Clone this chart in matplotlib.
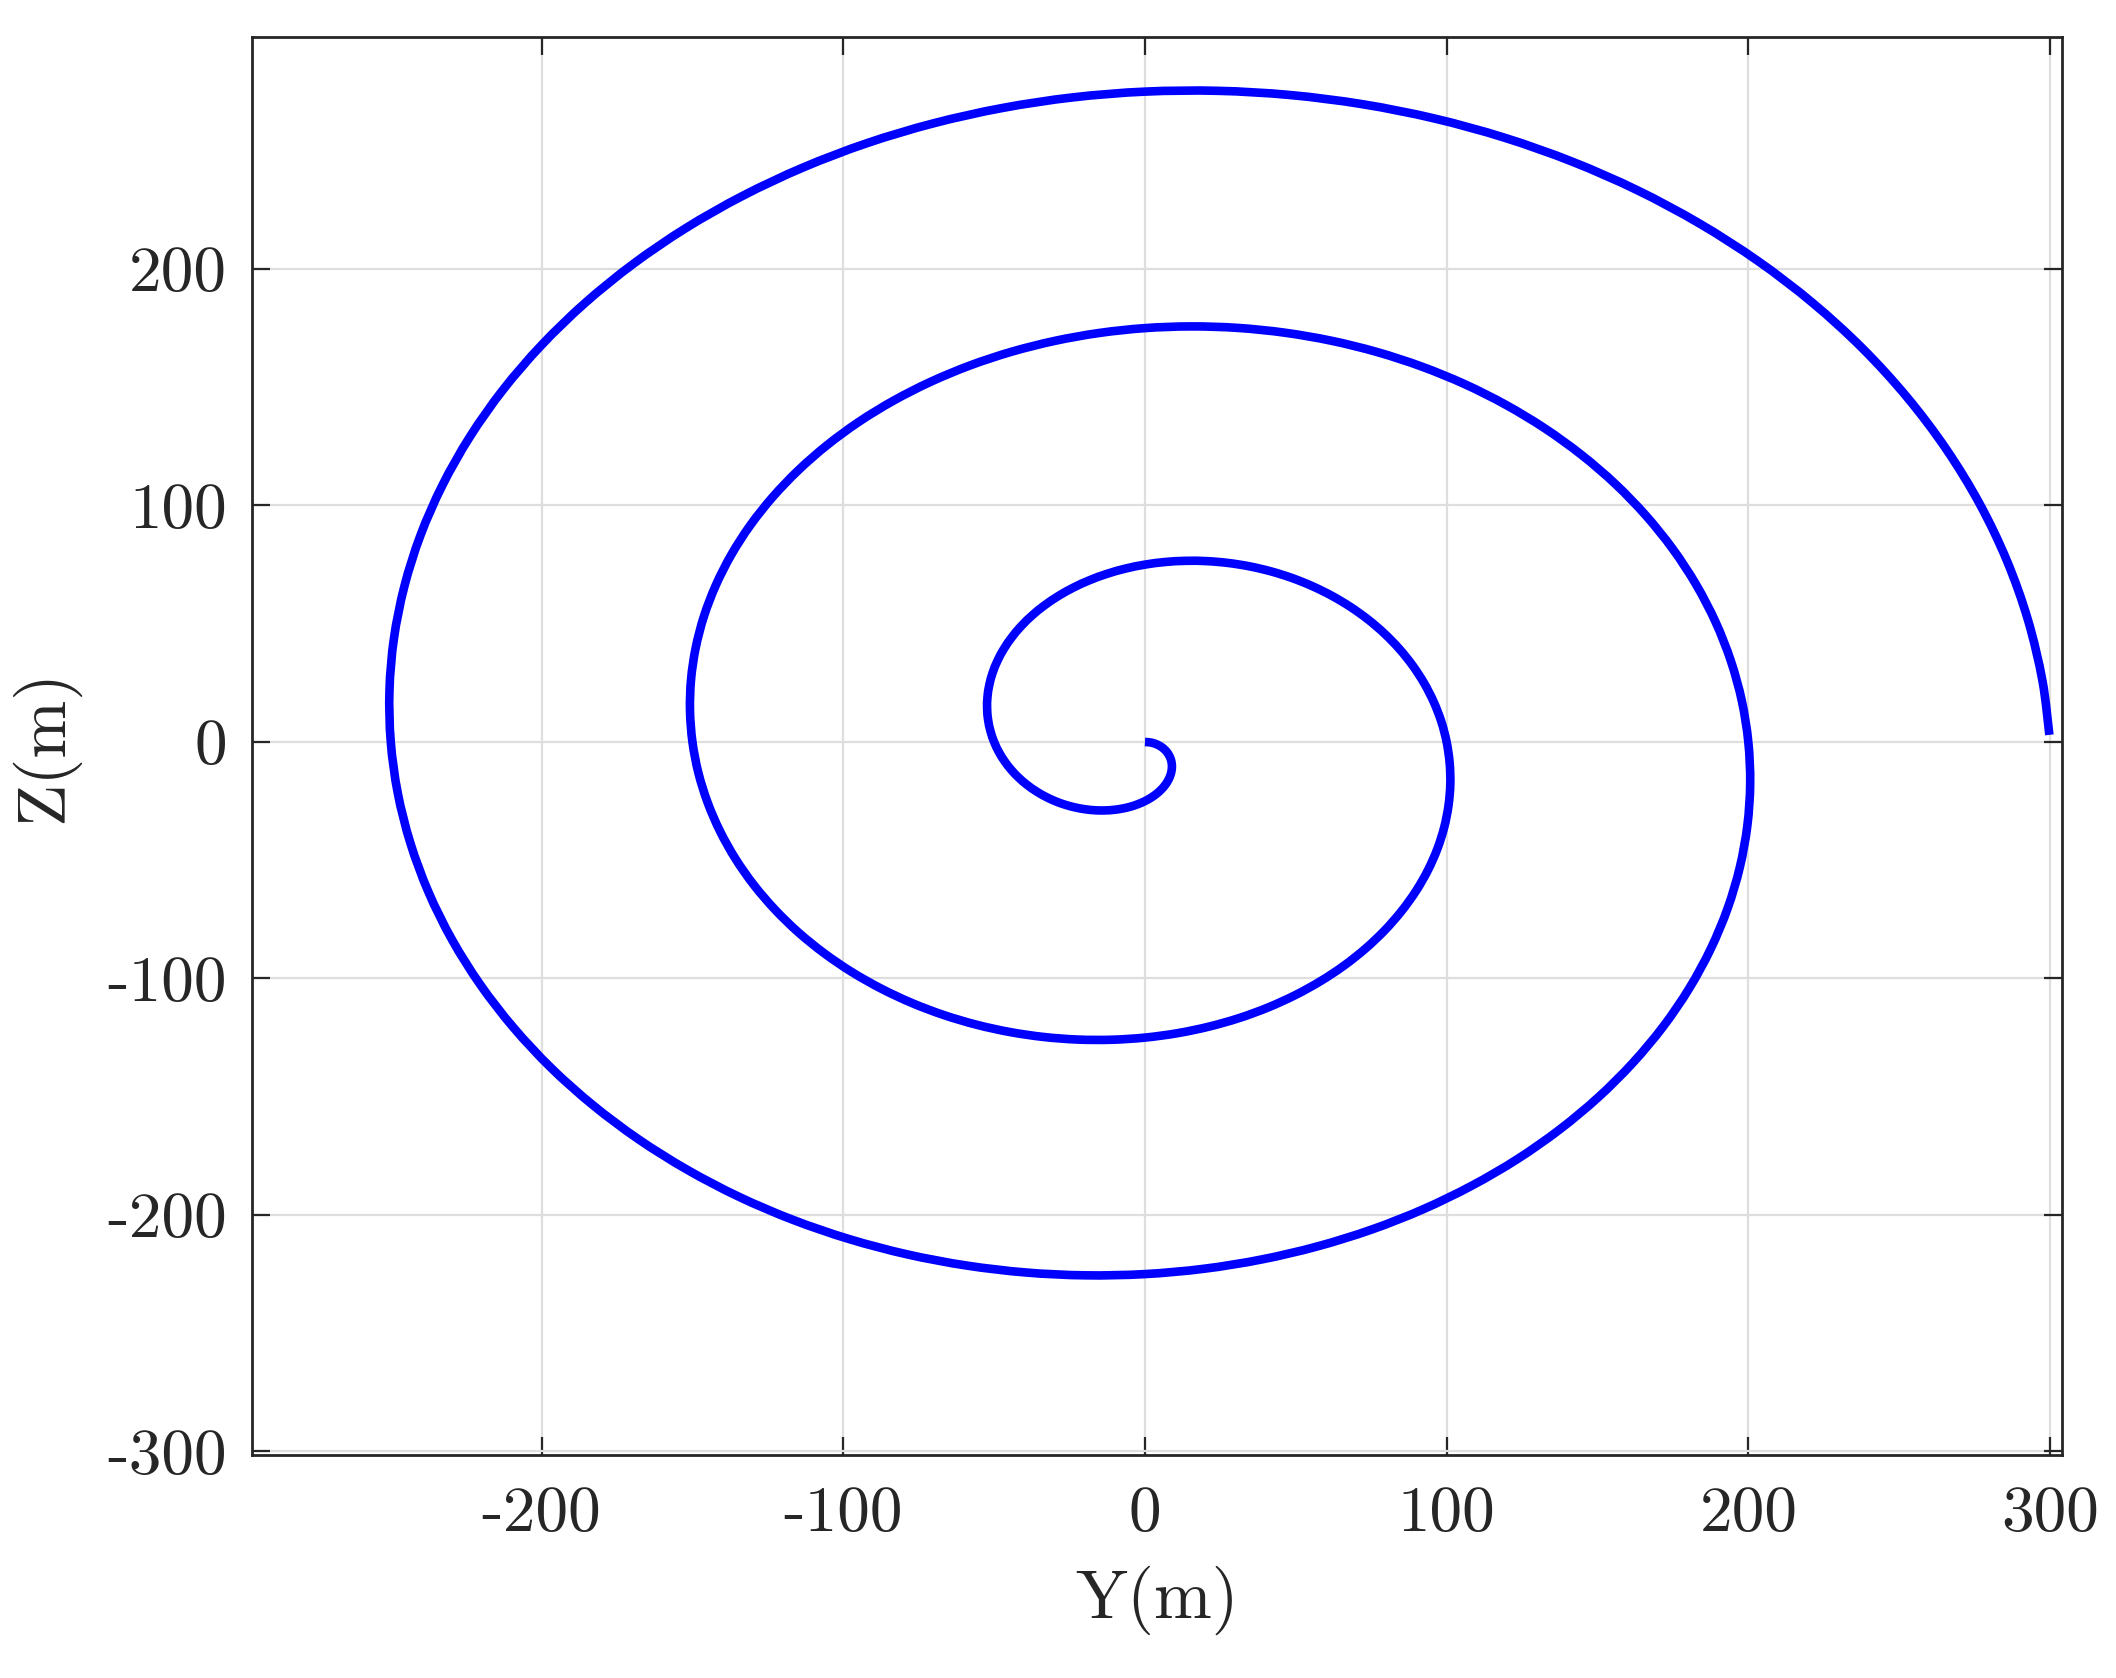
import matplotlib
matplotlib.use("Agg")
import matplotlib.pyplot as plt
import numpy as np
from matplotlib.path import Path
from matplotlib.patches import PathPatch

# spiral trajectory, one point every ~5 deg along the curve
# (horizontal = Y, vertical = Z, metres)
y_pos = [
    # first turn
    0, 1.38, 2.74, 4.02, 5.22, 6.29, 7.22, 7.96, 8.51, 8.84, 8.93, 8.76, 8.33, 7.63, 6.65, 5.39, 3.86, 2.06,
    0, -2.30, -4.82, -7.55, -10.45, -13.50, -16.67, -19.92, -23.21, -26.52, -29.79, -32.99, -36.08, -39.02, -41.76, -44.27, -46.50, -48.43,
    -50, -51.19, -51.98, -52.32, -52.21, -51.61, -50.52, -48.92, -46.81, -44.19, -41.07, -37.44, -33.33, -28.76, -23.75, -18.33, -12.54, -6.42,
    0, 6.66, 13.50, 20.49, 27.55, 34.63, 41.67, 48.60, 55.35, 61.87, 68.09, 73.96, 79.39, 84.34, 88.75, 92.57, 95.74, 98.24,
    # second turn
    100, 101.00, 101.22, 100.61, 99.19, 96.93, 93.82, 89.88, 85.11, 79.55, 73.21, 66.12, 58.33, 49.89, 40.85, 31.27, 21.22, 10.78,
    0, -11.02, -22.18, -33.43, -44.65, -55.76, -66.67, -77.28, -87.49, -97.23, -106.39, -114.92, -122.68, -129.65, -135.73, -140.86, -144.98, -148.05,
    -150, -150.81, -150.46, -148.91, -146.18, -142.24, -137.12, -130.84, -123.41, -114.90, -105.35, -94.80, -83.33, -71.02, -57.95, -44.21, -29.90, -15.14,
    0, 15.38, 30.86, 46.37, 61.75, 76.89, 91.67, 105.96, 119.63, 132.58, 144.69, 155.88, 165.99, 174.97, 182.72, 189.16, 194.22, 197.86,
    # third turn
    200, 200.62, 199.70, 197.21, 193.16, 187.55, 180.42, 171.80, 161.71, 150.26, 137.49, 123.48, 108.33, 92.15, 75.05, 57.15, 38.58, 19.50,
    0, -19.74, -39.54, -59.31, -78.85, -98.02, -116.67, -134.64, -151.77, -167.94, -182.99, -196.84, -209.28, -220.28, -229.70, -237.45, -243.46, -247.67,
    -250, -250.43, -248.94, -245.50, -240.15, -232.87, -223.72, -212.76, -200.01, -185.61, -169.63, -152.16, -133.33, -113.28, -92.15, -70.09, -47.26, -23.86,
    0, 24.10, 48.22, 72.25, 95.95, 119.15, 141.67, 163.31, 183.91, 203.29, 221.29, 237.80, 252.59, 265.60, 276.69, 285.75, 292.70, 297.48, 299.8,
]
z_pos = [
    # first turn
    0, -0.12, -0.48, -1.08, -1.90, -2.93, -4.17, -5.58, -7.14, -8.84, -10.64, -12.52, -14.43, -16.36, -18.27, -20.12, -21.88, -23.52,
    -25, -26.29, -27.36, -28.17, -28.71, -28.95, -28.87, -28.44, -27.66, -26.52, -25.00, -23.10, -20.83, -18.20, -15.20, -11.86, -8.20, -4.24,
    0, 4.48, 9.16, 14.02, 19.00, 24.06, 29.17, 34.26, 39.28, 44.19, 48.94, 53.48, 57.74, 61.68, 65.26, 68.42, 71.12, 73.33,
    75, 76.10, 76.60, 76.47, 75.70, 74.27, 72.17, 69.40, 65.96, 61.87, 57.14, 51.78, 45.83, 39.33, 32.30, 24.80, 16.88, 8.60,
    # second turn
    0, -8.84, -17.84, -26.96, -36.10, -45.19, -54.17, -62.94, -71.42, -79.55, -87.24, -94.44, -101.03, -106.99, -112.24, -116.72, -120.36, -123.14,
    -125, -125.91, -125.84, -124.76, -122.68, -119.58, -115.47, -110.36, -104.26, -97.23, -89.28, -80.46, -70.83, -60.46, -49.40, -37.74, -25.56, -12.96,
    0, 13.20, 26.52, 39.90, 53.20, 66.32, 79.17, 91.62, 103.56, 114.90, 125.54, 135.40, 144.34, 152.31, 159.23, 165.01, 169.60, 172.95,
    175, 175.72, 175.08, 173.06, 169.67, 164.90, 158.77, 151.32, 142.56, 132.58, 121.42, 109.14, 95.83, 81.59, 66.50, 50.68, 34.24, 17.32,
    # third turn
    0, -17.56, -35.20, -52.84, -70.30, -87.45, -104.17, -120.30, -135.70, -150.26, -163.84, -176.36, -187.63, -197.63, -206.21, -213.30, -218.84, -222.76,
    -225, -225.53, -224.32, -221.35, -216.65, -210.21, -202.07, -192.28, -180.86, -167.94, -153.56, -137.83, -120.83, -102.71, -83.60, -63.62, -42.92, -21.68,
    0, 21.92, 43.88, 65.78, 87.40, 108.58, 129.17, 148.98, 167.84, 185.61, 202.14, 217.31, 230.94, 242.94, 253.20, 261.60, 268.08, 272.57,
    275, 275.34, 273.55, 269.65, 263.64, 255.53, 245.37, 233.24, 219.16, 203.29, 185.70, 166.50, 145.83, 123.84, 100.70, 76.56, 51.60, 26.04, 3.0,
]

x_ticks = [-200, -100, 0, 100, 200, 300]
x_tick_labels = ['-200', '-100', '0', '100', '200', '300']
z_ticks = [-300, -200, -100, 0, 100, 200]
z_tick_labels = ['-300', '-200', '-100', '0', '100', '200']

plt.rcParams['font.family'] = ['cmr10', 'DejaVu Serif']
plt.rcParams['axes.unicode_minus'] = False

dark = '#262626'

fig = plt.figure(figsize=(10.58, 8.39), dpi=200)
ax = fig.add_axes([0.1191, 0.1329, 0.9745 - 0.1191, 0.97795 - 0.1329])

# draw the line through the read points as a smooth bezier path (data coords)
pts = np.column_stack([y_pos, z_pos])
padded = np.vstack([pts[0], pts, pts[-1]])
verts = [pts[0]]
codes = [Path.MOVETO]
for i in range(len(pts) - 1):
    p0, p1, p2, p3 = padded[i], padded[i + 1], padded[i + 2], padded[i + 3]
    verts += [p1 + (p2 - p0) / 6, p2 - (p3 - p1) / 6, p2]
    codes += [Path.CURVE4] * 3
spiral = PathPatch(Path(verts, codes), facecolor='none', edgecolor='#0000ff',
                   linewidth=3.1, capstyle='butt', joinstyle='round', zorder=3)
ax.add_patch(spiral)

ax.set_xlim(-296, 304)
ax.set_ylim(-301.5, 298.1)

ax.set_xticks(x_ticks)
ax.set_xticklabels(x_tick_labels)
ax.set_yticks(z_ticks)
ax.set_yticklabels(z_tick_labels)

ax.grid(True, color='#dedede', linewidth=0.8)
ax.set_axisbelow(True)

ax.tick_params(direction='in', length=6.5, width=0.8, color=dark,
               labelcolor=dark, labelsize=23.5, top=True, right=True)
ax.tick_params(axis='x', pad=11)
ax.tick_params(axis='y', pad=9)

for s in ax.spines.values():
    s.set_color(dark)
    s.set_linewidth(1.0)

ax.set_xlabel('Y(m)', fontsize=25, color=dark, labelpad=8)
ax.set_ylabel('Z(m)', fontsize=25, color=dark, labelpad=10)

fig.savefig('out.png', dpi=200)
